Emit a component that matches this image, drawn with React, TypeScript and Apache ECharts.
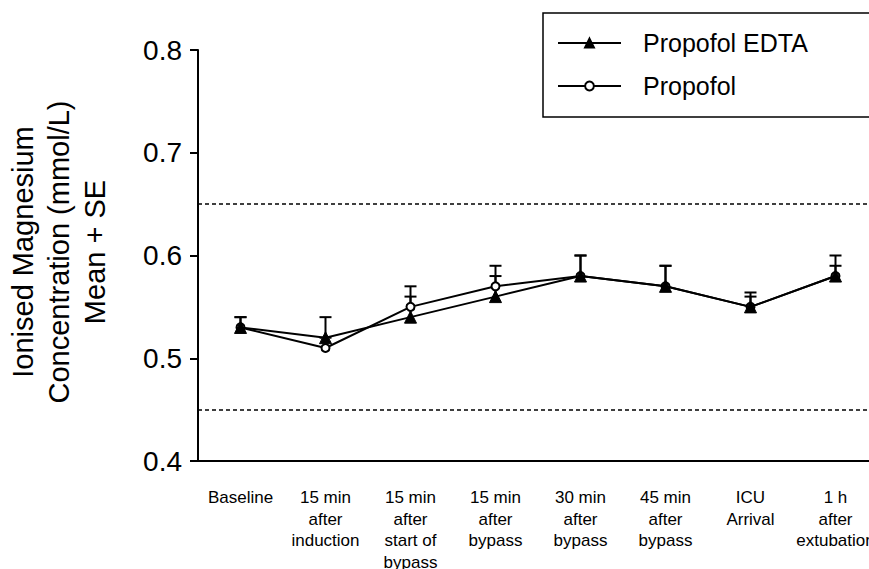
import React, { useEffect, useRef } from "react";
import * as echarts from "echarts";

const categories = [
  "Baseline",
  "15 min\nafter\ninduction",
  "15 min\nafter\nstart of\nbypass",
  "15 min\nafter\nbypass",
  "30 min\nafter\nbypass",
  "45 min\nafter\nbypass",
  "ICU\nArrival",
  "1 h\nafter\nextubation",
];

const edtaMean = [0.53, 0.52, 0.54, 0.56, 0.58, 0.57, 0.55, 0.58];
const edtaUpper = [0.54, 0.54, 0.56, 0.58, 0.6, 0.59, 0.564, 0.6];
const propofolMean = [0.53, 0.51, 0.55, 0.57, 0.58, 0.57, 0.55, 0.58];
const propofolUpper = [0.54, 0.52, 0.57, 0.59, 0.6, 0.59, 0.56, 0.59];
const referenceLines = [0.65, 0.45];
const yTicks = { min: 0.4, max: 0.8, interval: 0.1 };

const FONT = '"Liberation Sans", Arial, Helvetica, sans-serif';

function errorBarRender(params: any, api: any) {
  const x = api.value(0);
  const m = api.value(1);
  const h = api.value(2);
  const p0 = api.coord([x, m]);
  const p1 = api.coord([x, h]);
  const hw = 6;
  return {
    type: "group",
    children: [
      {
        type: "line",
        shape: { x1: p0[0], y1: p0[1], x2: p1[0], y2: p1[1] },
        style: { stroke: "#000", lineWidth: 2 },
      },
      {
        type: "line",
        shape: { x1: p1[0] - hw, y1: p1[1], x2: p1[0] + hw, y2: p1[1] },
        style: { stroke: "#000", lineWidth: 2 },
      },
    ],
  };
}

export default function App() {
  const ref = useRef<HTMLDivElement>(null);
  useEffect(() => {
    if (!ref.current) return;
    const chart = echarts.init(ref.current, undefined, { renderer: "svg" });
    chart.setOption({
      animation: false,
      backgroundColor: "#fff",
      textStyle: { fontFamily: FONT, color: "#000" },
      grid: {
        left: 198,
        top: 50,
        width: 680,
        height: 411,
        containLabel: false,
        outerBoundsMode: "none",
      },
      legend: {
        data: ["Propofol EDTA", "Propofol"],
        orient: "vertical",
        left: 543,
        top: 13,
        itemWidth: 63,
        itemHeight: 11,
        itemGap: 17,
        padding: [17, 90, 18, 14],
        borderColor: "#000",
        borderWidth: 1.5,
        borderRadius: 0,
        backgroundColor: "#fff",
        textStyle: {
          fontFamily: FONT,
          fontSize: 25,
          lineHeight: 26,
          color: "#000",
          padding: [0, 0, 0, 17],
        },
      },
      xAxis: {
        type: "category",
        data: categories,
        boundaryGap: true,
        axisLine: { lineStyle: { color: "#000", width: 2 } },
        axisTick: { alignWithLabel: true, length: 8, lineStyle: { color: "#000", width: 2 } },
        axisLabel: {
          interval: 0,
          margin: 26,
          fontFamily: FONT,
          fontSize: 17,
          lineHeight: 21.5,
          color: "#000",
        },
      },
      yAxis: {
        type: "value",
        min: yTicks.min,
        max: yTicks.max,
        interval: yTicks.interval,
        splitLine: { show: false },
        axisLine: { show: true, lineStyle: { color: "#000", width: 2 } },
        axisTick: { show: true, length: 8, lineStyle: { color: "#000", width: 2 } },
        axisLabel: {
          margin: 16,
          fontFamily: FONT,
          fontSize: 28,
          color: "#000",
          formatter: (v: number) => v.toFixed(1),
        },
      },
      graphic: [
        {
          type: "text",
          x: 59,
          y: 252,
          rotation: Math.PI / 2,
          style: {
            text: "Ionised Magnesium\nConcentration (mmol/L)\nMean + SE",
            fontFamily: FONT,
            fontSize: 29,
            lineHeight: 36,
            align: "center",
            verticalAlign: "middle",
            fill: "#000",
          },
        },
      ],
      series: [
        {
          type: "custom",
          name: "Propofol SE",
          renderItem: errorBarRender,
          encode: { x: 0, y: [1, 2] },
          data: categories.map((_, i) => [i, propofolMean[i], propofolUpper[i]]),
          z: 1,
          silent: true,
        },
        {
          type: "custom",
          name: "EDTA SE",
          renderItem: errorBarRender,
          encode: { x: 0, y: [1, 2] },
          data: categories.map((_, i) => [i, edtaMean[i], edtaUpper[i]]),
          z: 1,
          silent: true,
        },
        {
          type: "line",
          name: "Propofol",
          data: propofolMean,
          symbol: "circle",
          symbolSize: 8,
          lineStyle: { color: "#000", width: 2 },
          itemStyle: { color: "#fff", borderColor: "#000", borderWidth: 2 },
          z: 2,
          markLine: {
            silent: true,
            symbol: "none",
            label: { show: false },
            lineStyle: { color: "#000", width: 1.5, type: [4, 3] },
            data: referenceLines.map((v) => ({ yAxis: v })),
          },
        },
        {
          type: "line",
          name: "Propofol EDTA",
          data: edtaMean,
          symbol: "triangle",
          symbolSize: 12,
          lineStyle: { color: "#000", width: 2 },
          itemStyle: { color: "#000", borderColor: "#000", borderWidth: 1 },
          z: 3,
        },
      ],
    });
    return () => chart.dispose();
  }, []);
  return (
    <div
      ref={ref}
      style={{ position: "fixed", left: 0, top: 0, width: 869, height: 569 }}
    />
  );
}
